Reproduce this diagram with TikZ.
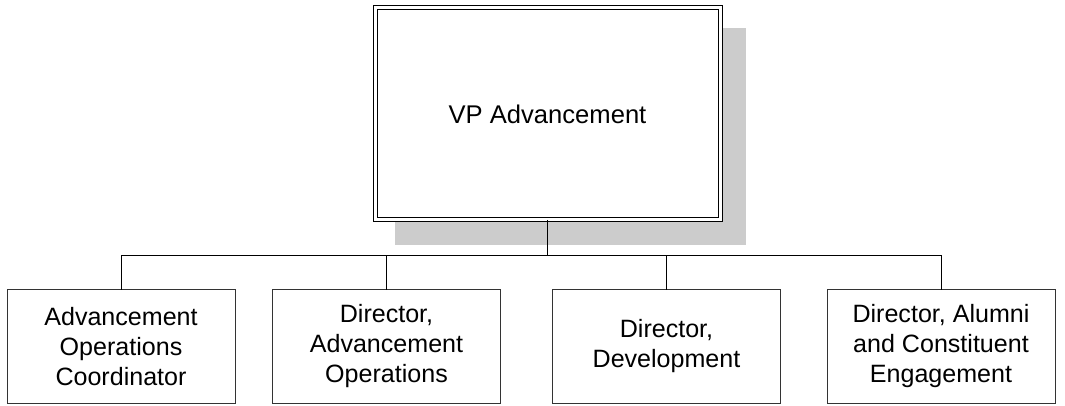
\documentclass[tikz,border=0pt]{standalone}
\usepackage{fontspec}
\setmainfont{Liberation Sans}
\begin{document}
\begin{tikzpicture}[x=0.75pt,y=-0.75pt,
  topbox/.style={draw=black, line width=0.75pt, double=white, double distance=2.25pt,
    fill=white, minimum width=258.75pt, minimum height=159pt, inner sep=0pt, outer sep=0pt,
    font=\fontsize{19.2}{23}\selectfont},
  subbox/.style={draw=black!80, line width=0.75pt, fill=white, minimum width=171pt,
    minimum height=84.75pt, inner sep=0pt, outer sep=0pt, align=center,
    font=\fontsize{18.8}{22.5}\selectfont},
  conn/.style={draw=black, line width=0.75pt}]
\useasboundingbox (0,0) rectangle (1065,406);
\fill[white] (0,0) rectangle (1065,406);
% shadow
\fill[black!20] (395,28) rectangle (746,245);
\node[topbox] (vp) at (547.5,114) {VP Advancement};
\node[subbox] (b1) at (121,346.5) {Advancement\\Operations\\Coordinator};
\node[subbox] (b2) at (386.5,346.5) {Director,\\Advancement\\Operations};
\node[subbox] (b3) at (666.5,346.5) {Director,\\Development};
\node[subbox] (b4) at (941,346.5) {Director, Alumni\\and Constituent\\Engagement};
\coordinate (bus) at (547.5,256);
\draw[conn] (vp.south) -- (bus);
\draw[conn] (bus) -| (b1.north);
\draw[conn] (bus) -| (b2.north);
\draw[conn] (bus) -| (b3.north);
\draw[conn] (bus) -| (b4.north);
\end{tikzpicture}
\end{document}
